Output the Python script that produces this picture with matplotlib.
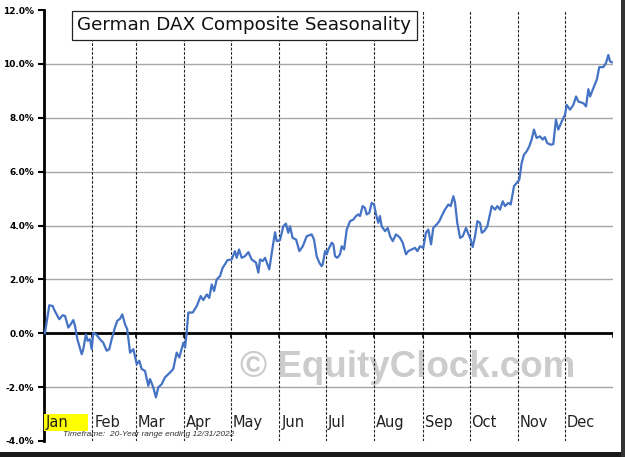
import matplotlib
matplotlib.use("Agg")
import matplotlib.pyplot as plt
from matplotlib.patches import Rectangle

# ---- data (day of year, seasonal % return) ----
days = [0.6, 3.4, 5.6, 6.4, 8.1, 9.8, 12.0, 13.5, 15.6, 17.1, 18.8, 19.9, 21.4, 24.2, 25.2,
        26.9, 28.0, 29.5, 30.6, 31.6, 33.4, 35.9, 38.0, 40.2, 41.9, 43.4, 45.5, 47.0, 48.8,
        50.2, 52.0, 53.4, 55.2, 57.3, 59.5, 61.1, 62.7, 64.8, 66.9, 68.0, 70.1, 71.8, 73.3,
        75.5, 77.6, 80.8, 82.9, 85.1, 86.8, 89.4, 90.5, 91.5, 92.6, 95.4, 98.0, 100.5, 102.2,
        104.4, 106.0, 107.6, 109.1, 110.8, 112.9, 114.6, 116.1, 117.6, 120.4, 122.5, 123.6,
        125.1, 126.8, 128.9, 131.1, 133.2, 136.0, 137.5, 138.6, 140.3, 141.8, 142.9, 144.5,
        146.1, 148.2, 149.3, 151.4, 153.5, 155.2, 156.7, 157.8, 159.5, 161.7, 163.8, 166.0,
        168.5, 171.7, 173.2, 174.9, 176.6, 178.1, 178.8, 180.3, 181.4, 182.4, 184.6, 185.6,
        186.7, 188.2, 189.9, 191.0, 192.5, 194.2, 196.3, 198.4, 200.1, 201.6, 202.7, 204.4,
        205.9, 207.0, 208.7, 210.2, 211.7, 213.0, 214.4, 215.5, 216.6, 218.8, 220.5, 222.0,
        223.7, 225.8, 227.3, 228.4, 230.1, 232.2, 233.7, 235.9, 238.0, 239.5, 241.2, 243.3,
        245.0, 246.5, 248.3, 249.7, 251.9, 253.6, 255.1, 257.2, 259.4, 260.9, 262.6, 263.7,
        265.1, 266.9, 268.6, 270.7, 272.2, 273.7, 275.0, 276.5, 278.0, 279.7, 280.8, 282.3,
        284.4, 287.2, 289.3, 290.8, 292.5, 294.3, 295.7, 297.9, 299.4, 301.5, 303.2, 304.9,
        306.4, 307.9, 309.6, 311.3, 312.8, 314.3, 316.0, 318.1, 319.9, 321.3, 322.8, 325.0,
        326.7, 328.4, 329.9, 332.1, 334.2, 335.3, 337.4, 339.6, 341.3, 342.8, 344.3, 346.0,
        347.7, 349.2, 350.3, 352.4, 354.6, 356.2, 358.8, 360.5, 362.0, 363.1, 364.2]
values = [0.00, 1.04, 1.01, 0.89, 0.70, 0.52, 0.67, 0.64, 0.21, 0.33, 0.49, 0.27, -0.22, -0.78, -0.59,
          -0.04, -0.28, -0.22, -0.59, 0.02, -0.04, -0.22, -0.35, -0.65, -0.59, -0.22, 0.21, 0.46, 0.54,
          0.70, 0.33, 0.15, -0.72, -0.59, -1.15, -1.02, -1.33, -1.40, -1.95, -1.70, -2.01, -2.38, -2.01,
          -1.89, -1.64, -1.46, -1.33, -0.72, -0.90, -0.35, -0.53, 0.02, 0.77, 0.77, 1.01, 1.38, 1.23,
          1.44, 1.31, 1.81, 1.57, 2.00, 2.12, 2.43, 2.56, 2.71, 2.74, 3.05, 2.80,
          3.11, 2.80, 2.86, 3.01, 2.74, 2.62, 2.25, 2.74, 2.68, 2.80, 2.62, 2.37,
          2.98, 3.75, 3.42, 3.46, 3.97, 4.07, 3.73, 3.97, 3.54, 3.48, 3.05, 3.23,
          3.60, 3.67, 3.48, 2.86, 2.62, 2.49, 2.56, 3.05, 2.93, 3.11, 3.36, 3.30,
          2.86, 2.80, 2.93, 3.23, 3.11, 3.85, 4.16, 4.22, 4.35, 4.41, 4.35, 4.72,
          4.65, 4.41, 4.47, 4.84, 4.78, 4.41, 4.10, 4.35, 3.97, 3.79, 3.91, 3.60,
          3.42, 3.67, 3.60, 3.54, 3.36, 2.93, 3.05, 3.11, 3.17, 3.05, 3.23, 3.17,
          3.73, 3.85, 3.30, 3.91, 4.04, 4.16, 4.35, 4.59, 4.78, 4.72, 5.09, 4.84,
          4.10, 3.54, 3.60, 3.91, 3.70, 3.48, 3.20, 3.60, 4.16, 4.10, 3.73, 3.79,
          3.97, 4.72, 4.59, 4.72, 4.59, 4.90, 4.72, 4.84, 4.78, 5.46, 5.58, 5.70,
          6.32, 6.63, 6.75, 6.94, 7.19, 7.56, 7.25, 7.31, 7.19, 7.28, 7.06, 7.00,
          7.02, 7.93, 7.56, 7.86, 8.11, 8.48, 8.30, 8.48, 8.79, 8.60, 8.57, 8.54,
          8.42, 9.06, 8.79, 9.10, 9.41, 9.88, 9.88, 10.03, 10.33, 10.09, 10.06]

months = ["Jan", "Feb", "Mar", "Apr", "May", "Jun", "Jul", "Aug", "Sep", "Oct", "Nov", "Dec"]
month_starts = [0, 31, 59, 90, 120, 151, 181, 212, 243, 273, 304, 334]
yticks = [-4, -2, 0, 2, 4, 6, 8, 10, 12]
title = "German DAX Composite Seasonality"
footnote = "Timeframe:  20-Year range ending 12/31/2022"
watermark = "\u00a9 EquityClock.com"

fig = plt.figure(figsize=(6.25, 4.57), dpi=100)
fig.patch.set_facecolor("white")
ax = fig.add_axes([44/625, 1 - 441/457, 569/625, 431/457])
ax.set_xlim(0, 365)
ax.set_ylim(-4, 12)

for s in ["top", "right", "bottom"]:
    ax.spines[s].set_visible(False)
ax.spines["left"].set_linewidth(2.0)
ax.spines["left"].set_color("black")

ax.set_yticks(yticks)
ax.set_yticklabels([f"{v:.1f}%" for v in yticks], fontsize=6.5, fontweight="bold",
                   family="DejaVu Sans")
ax.tick_params(axis="y", direction="out", length=4, width=1.5, pad=3)
ax.set_xticks([])

# gridlines
for v in yticks:
    if v not in (0, -4, 12):
        ax.axhline(v, color="#a6a6a6", lw=1.0, zorder=1)
# zero axis
ax.axhline(0, color="black", lw=2.0, zorder=3)
for d in month_starts[1:] + [365]:
    ax.plot([d, d], [0, -0.15], color="black", lw=1.2, zorder=3)

# month dividers
for d in month_starts[1:]:
    ax.axvline(d, color="#222222", lw=0.8, ls=(0, (2.5, 1.5)), zorder=2)

# watermark
ax.text(233, -1.28, watermark, fontsize=26.5, fontweight="bold", family="Liberation Sans",
        color="#cccccc", ha="center", va="center", zorder=1.5)

# series
ax.plot(days, values, color="#4472C4", lw=1.6, zorder=4)

# month labels
for m, d in zip(months, month_starts):
    ax.text(d + 1.2, -3.33, m, fontsize=10.5, family="DejaVu Sans", color="#222222",
            ha="left", va="center", zorder=5)
ax.add_patch(Rectangle((0, -3.63), 28, 0.63, facecolor="#ffff00", edgecolor="none", zorder=4.5))

ax.text(12.5, -3.75, footnote, fontsize=6, style="italic", family="Liberation Sans",
        color="#333333", ha="left", va="center", zorder=5)

# title box
fig.text(77/625, 1 - 25/457, title, fontsize=13.2, family="DejaVu Sans", color="#111111",
         ha="left", va="center", zorder=6,
         bbox=dict(boxstyle="square,pad=0.3", facecolor="white", edgecolor="#222222", lw=0.9))

# frame shadow (right and bottom)
fig.patches.append(Rectangle((0, 0), 1, 5/457, transform=fig.transFigure,
                             facecolor="#1a1a1a", edgecolor="none"))
fig.patches.append(Rectangle((621/625, 0), 4/625, 1, transform=fig.transFigure,
                             facecolor="#333333", edgecolor="none"))

fig.savefig("out.png", dpi=100)
